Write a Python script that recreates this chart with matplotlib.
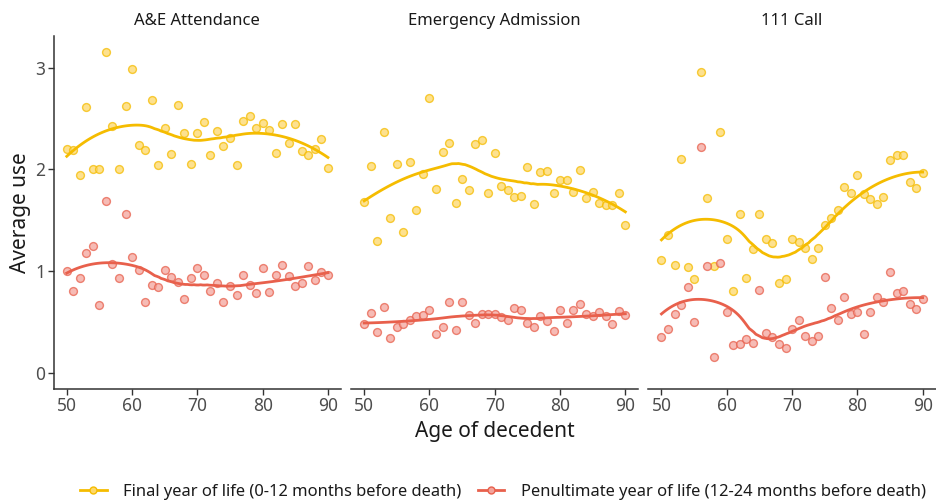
import numpy as np
import matplotlib
matplotlib.use("Agg")
import matplotlib.pyplot as plt
from matplotlib.lines import Line2D

plt.rcParams['font.family'] = ['Noto Sans', 'DejaVu Sans']

ages = list(range(50, 91))
panels = ["A&E Attendance", "Emergency Admission", "111 Call"]
series_labels = ["Final year of life (0-12 months before death)",
                 "Penultimate year of life (12-24 months before death)"]

ae_final = [2.20, 2.19, 1.94, 2.61, 2.00, 2.00, 3.15, 2.43, 2.00, 2.62,
            2.99, 2.24, 2.19, 2.68, 2.04, 2.41, 2.15, 2.63, 2.36, 2.05,
            2.36, 2.47, 2.14, 2.38, 2.23, 2.31, 2.04, 2.48, 2.52, 2.41,
            2.46, 2.39, 2.16, 2.45, 2.26, 2.45, 2.18, 2.14, 2.20, 2.30, 2.01]
ae_penult = [1.00, 0.81, 0.93, 1.18, 1.25, 0.67, 1.69, 1.07, 0.93, 1.56,
             1.14, 1.01, 0.70, 0.86, 0.84, 1.01, 0.94, 0.89, 0.73, 0.93,
             1.03, 0.96, 0.81, 0.88, 0.70, 0.85, 0.77, 0.96, 0.86, 0.79,
             1.03, 0.80, 0.96, 1.06, 0.95, 0.85, 0.88, 1.05, 0.91, 0.99, 0.96]
em_final = [1.68, 2.03, 1.30, 2.37, 1.52, 2.05, 1.38, 2.07, 1.60, 1.95,
            2.70, 1.81, 2.17, 2.26, 1.67, 1.91, 1.80, 2.25, 2.29, 1.77,
            2.16, 1.84, 1.80, 1.73, 1.74, 2.02, 1.66, 1.97, 1.98, 1.77,
            1.90, 1.90, 1.78, 1.99, 1.72, 1.78, 1.67, 1.65, 1.65, 1.77, 1.45]
em_penult = [0.48, 0.59, 0.40, 0.65, 0.34, 0.45, 0.48, 0.52, 0.56, 0.57,
             0.62, 0.38, 0.45, 0.70, 0.42, 0.70, 0.57, 0.49, 0.58, 0.58,
             0.58, 0.55, 0.52, 0.64, 0.62, 0.49, 0.45, 0.56, 0.51, 0.41,
             0.62, 0.49, 0.62, 0.68, 0.58, 0.56, 0.60, 0.56, 0.48, 0.61, 0.57]
call_final = [1.11, 1.36, 1.06, 2.10, 1.04, 0.92, 2.96, 1.72, 1.05, 2.37,
              1.32, 0.81, 1.56, 0.93, 1.22, 1.56, 1.32, 1.28, 0.88, 0.92,
              1.32, 1.29, 1.23, 1.12, 1.23, 1.45, 1.52, 1.60, 1.83, 1.77,
              1.94, 1.76, 1.71, 1.66, 1.73, 2.09, 2.14, 2.14, 1.88, 1.82, 1.96]
call_penult = [0.35, 0.43, 0.58, 0.67, 0.84, 0.50, 2.22, 1.05, 0.16, 1.08,
               0.60, 0.27, 0.28, 0.33, 0.29, 0.82, 0.39, 0.35, 0.28, 0.25,
               0.43, 0.52, 0.36, 0.31, 0.36, 0.94, 0.64, 0.52, 0.75, 0.58,
               0.60, 0.38, 0.60, 0.75, 0.70, 0.99, 0.79, 0.81, 0.68, 0.63, 0.73]

data = [(ae_final, ae_penult), (em_final, em_penult), (call_final, call_penult)]

line_colors = ["#F5BC00", "#E8604C"]
fill_colors = ["#FDD86A", "#F3A49C"]


def loess(x, y, xs, span=0.7, degree=2):
    x = np.asarray(x, float)
    y = np.asarray(y, float)
    n = len(x)
    q = int(np.floor(n * span))
    out = []
    for x0 in xs:
        d = np.abs(x - x0)
        h = np.sort(d)[q - 1]
        w = np.clip(1 - (d / h) ** 3, 0, None) ** 3
        X = np.vander(x - x0, degree + 1, increasing=True)
        Wm = np.diag(w)
        beta = np.linalg.lstsq(X.T @ Wm @ X, X.T @ Wm @ y, rcond=None)[0]
        out.append(beta[0])
    return np.array(out)


W, H = 936, 504
fig = plt.figure(figsize=(W / 100, H / 100), dpi=100)

lefts = [53.7, 351.1, 648.4]
pw = 287.3
bottom = 389
top = 36.3
xs = np.linspace(50, 90, 120)

tick_color = "#4D4D4D"
for i, (title, (fin, pen)) in enumerate(zip(panels, data)):
    ax = fig.add_axes([lefts[i] / W, 1 - bottom / H, pw / W, (bottom - top) / H])
    for j, vals in enumerate([fin, pen]):
        ax.scatter(ages, vals, s=32, facecolor=fill_colors[j], edgecolor=line_colors[j],
                   linewidth=1.0, alpha=0.75, zorder=2)
    for j, vals in enumerate([fin, pen]):
        ax.plot(xs, loess(ages, vals, xs), color=line_colors[j], lw=2.0, zorder=3)
    ax.set_xlim(48, 92)
    ax.set_ylim(-0.1575, 3.3075)
    ax.set_xticks([50, 60, 70, 80, 90])
    ax.set_yticks([0, 1, 2, 3])
    for s in ["top", "right"]:
        ax.spines[s].set_visible(False)
    ax.spines["bottom"].set_color("#333333")
    ax.spines["bottom"].set_linewidth(1.1)
    ax.tick_params(axis="x", length=4, width=1.0, color="#333333", labelsize=12.5,
                   labelcolor=tick_color, pad=2)
    if i == 0:
        ax.spines["left"].set_color("#333333")
        ax.spines["left"].set_linewidth(1.1)
        ax.tick_params(axis="y", length=4, width=1.0, color="#333333", labelsize=12.5,
                       labelcolor=tick_color, pad=2)
        ax.set_ylabel("Average use", fontsize=15, color="#1a1a1a", labelpad=3)
    else:
        ax.spines["left"].set_visible(False)
        ax.tick_params(axis="y", left=False, labelleft=False)
    ax.set_title(title, fontsize=12, color="#1a1a1a", pad=8)

fig.text(495 / W, 1 - 432 / H, "Age of decedent", ha="center", va="center",
         fontsize=15, color="#1a1a1a")

handles = [Line2D([0], [0], color=line_colors[j], lw=2.0, marker="o", markersize=5,
                  markerfacecolor=fill_colors[j], markeredgecolor=line_colors[j])
           for j in range(2)]
fig.legend(handles, series_labels, loc="center", bbox_to_anchor=(503 / W, 1 - 492 / H),
           ncol=2, frameon=False, fontsize=11.9, handlelength=1.6, columnspacing=1.0,
           handletextpad=1.0, labelcolor="#1a1a1a")

fig.savefig("out.png", dpi=100)
